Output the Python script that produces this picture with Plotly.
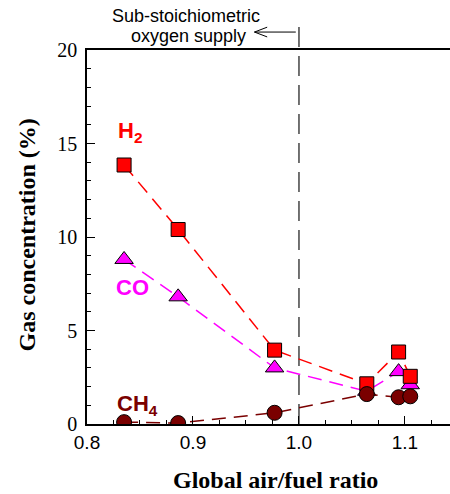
import plotly.graph_objects as go

# Global air/fuel ratio for each run
ratio = [0.835, 0.886, 0.977, 1.064, 1.094, 1.105]

# Gas concentrations (%)
h2 = [13.85, 10.4, 3.95, 2.15, 3.85, 2.55]
co = [8.8, 6.8, 3.0, 1.75, 2.8, 2.1]
ch4 = [0.1, 0.05, 0.6, 1.6, 1.43, 1.48]

y_ticks = [0, 5, 10, 15, 20]
x_ticks = [0.8, 0.9, 1.0, 1.1]
x_tick_text = ["0.8", "0.9", "1.0", "1.1"]
stoich = 1.0

DASH = "14px,8px"

fig = go.Figure()

fig.add_trace(go.Scatter(
    x=ratio, y=co, mode="lines+markers",
    line=dict(color="#ff00ff", width=1.5, dash=DASH),
    marker=dict(symbol="triangle-up", size=16, color="#ff00ff",
                line=dict(color="black", width=1)),
    showlegend=False,
))
fig.add_trace(go.Scatter(
    x=ratio, y=h2, mode="lines+markers",
    line=dict(color="#ff0000", width=1.5, dash=DASH),
    marker=dict(symbol="square", size=14, color="#ff0000",
                line=dict(color="black", width=1)),
    showlegend=False,
))
fig.add_trace(go.Scatter(
    x=ratio, y=ch4, mode="lines+markers",
    line=dict(color="#7a0000", width=1.5, dash=DASH),
    marker=dict(symbol="circle", size=15, color="#7a0000",
                line=dict(color="black", width=1)),
    showlegend=False,
))

# stoichiometric boundary
fig.add_shape(type="line", xref="x", yref="paper", x0=stoich, x1=stoich,
              y0=0, y1=1.08, layer="below",
              line=dict(color="#444444", width=1.5, dash="20px,9px"))

# arrow pointing towards the sub-stoichiometric side
arrow_y = 1.048
tip = 0.958
fig.add_shape(type="line", xref="x", yref="paper", x0=stoich - 0.003, x1=tip,
              y0=arrow_y, y1=arrow_y, line=dict(color="black", width=1))
fig.add_shape(type="line", xref="x", yref="paper", x0=tip, x1=tip + 0.012,
              y0=arrow_y, y1=arrow_y + 0.013, line=dict(color="black", width=1))
fig.add_shape(type="line", xref="x", yref="paper", x0=tip, x1=tip + 0.012,
              y0=arrow_y, y1=arrow_y - 0.013, line=dict(color="black", width=1))

note_font = dict(family="Liberation Sans", size=18, color="black")
fig.add_annotation(x=0.893, xref="x", y=1.091, yref="paper",
                   text="Sub-stoichiometric", showarrow=False, font=note_font,
                   xanchor="center", yanchor="middle")
fig.add_annotation(x=0.896, xref="x", y=1.037, yref="paper",
                   text="oxygen supply", showarrow=False, font=note_font,
                   xanchor="center", yanchor="middle")

label_font = "Liberation Sans"
fig.add_annotation(x=0.841, y=15.6, text="<b>H<sub>2</sub></b>", showarrow=False,
                   font=dict(family=label_font, size=22, color="#ff0000"))
fig.add_annotation(x=0.843, y=7.3, text="<b>CO</b>", showarrow=False,
                   font=dict(family=label_font, size=22, color="#ff00ff"))
fig.add_annotation(x=0.848, y=1.0, text="<b>CH<sub>4</sub></b>", showarrow=False,
                   font=dict(family=label_font, size=22, color="#7a0000"))

# axis titles
title_font = dict(family="Liberation Serif", size=24, color="black")
fig.add_annotation(x=-0.168, xref="paper", y=0.504, yref="paper",
                   text="<b>Gas concentration (%)</b>", textangle=-90,
                   showarrow=False, font=title_font,
                   xanchor="center", yanchor="middle")
fig.add_annotation(x=0.518, xref="paper", y=-0.150, yref="paper",
                   text="<b>Global air/fuel ratio</b>",
                   showarrow=False, font=title_font,
                   xanchor="center", yanchor="middle")

fig.update_layout(
    width=450, height=494,
    margin=dict(l=87, r=0, t=50, b=70),
    plot_bgcolor="white", paper_bgcolor="white",
    xaxis=dict(
        range=[0.8, 1.1425], tickvals=x_ticks, ticktext=x_tick_text,
        ticks="inside", ticklen=8, tickwidth=1.2, tickcolor="black",
        minor=dict(dtick=0.025, tick0=0.8, ticks="inside", ticklen=4,
                   tickcolor="black", tickwidth=1),
        showline=True, linecolor="black", linewidth=1.5, mirror=True,
        showgrid=False, zeroline=False,
        tickfont=dict(family="Liberation Sans", size=19, color="black"),
    ),
    yaxis=dict(
        range=[0, 20], tickvals=y_ticks,
        ticks="inside", ticklen=8, tickwidth=1.2, tickcolor="black",
        minor=dict(dtick=1, ticks="inside", ticklen=4,
                   tickcolor="black", tickwidth=1),
        showline=True, linecolor="black", linewidth=1.5,
        showgrid=False, zeroline=False, ticklabelstandoff=4,
        tickfont=dict(family="Liberation Serif", size=20, color="black"),
    ),
)

fig.write_html("out.html")
